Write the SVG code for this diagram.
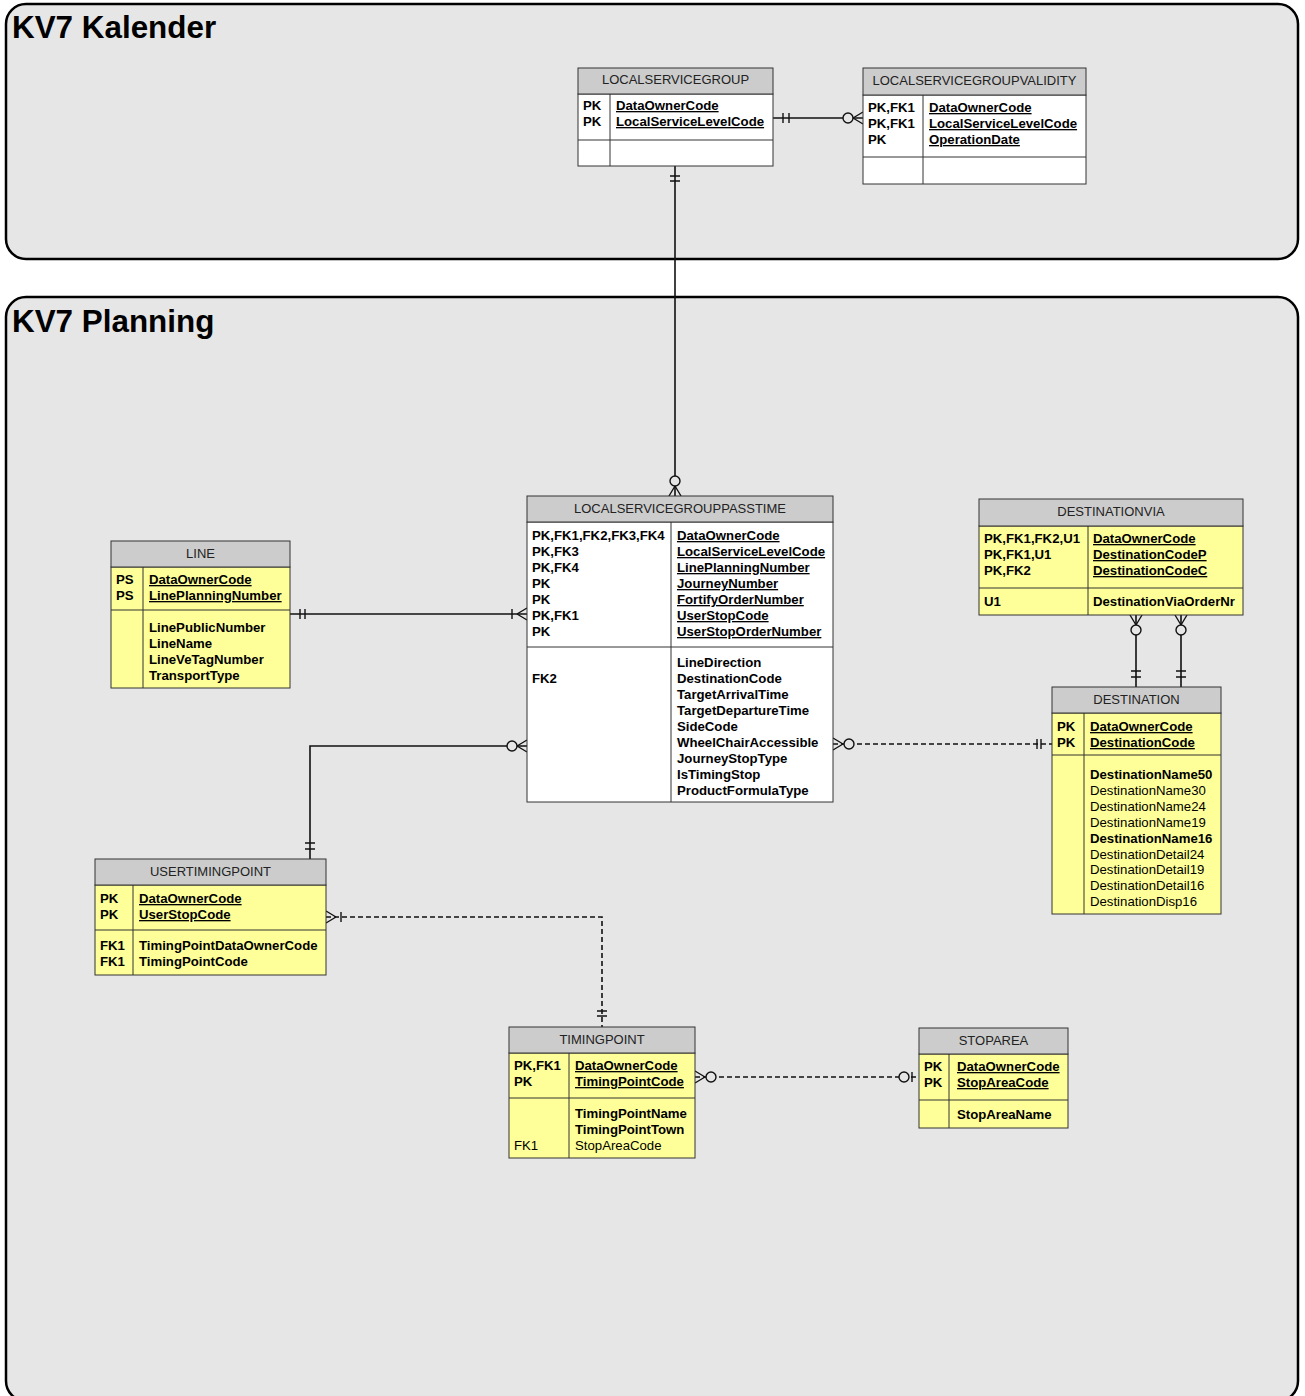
<svg xmlns="http://www.w3.org/2000/svg" width="1305" height="1396" viewBox="0 0 1305 1396">
<style>
.area{fill:#e6e6e6;stroke:#000;stroke-width:2.5}
.title{font-family:"Liberation Sans",Arial,sans-serif;font-weight:bold;font-size:31.4px;fill:#000}
.hdr{fill:#cccccc;stroke:#333;stroke-width:1}
.body{stroke:#333;stroke-width:1}
.w{fill:#fff}
.y{fill:#ffff99}
.div{stroke:#333;stroke-width:1;fill:none}
.ht{font-family:"Liberation Sans",Arial,sans-serif;font-size:13px;fill:#222;text-anchor:middle}
.t{font-family:"Liberation Sans",Arial,sans-serif;font-size:13.2px;fill:#000;font-weight:bold}
.n{font-weight:normal}
.u{text-decoration:underline}
.c{fill:none;stroke:#111;stroke-width:1.6}
.d{stroke-dasharray:5,3}
.m{fill:none;stroke:#111;stroke-width:1.4}
.o{fill:#e6e6e6;stroke:#111;stroke-width:1.4}
</style>
<rect x="0" y="0" width="1305" height="1396" fill="#fff"/>
<g id="area-kalender">
<rect class="area" x="6" y="4" width="1292" height="255" rx="20" ry="20"/>
<text class="title" x="12" y="38">KV7 Kalender</text>
</g>
<g id="area-planning">
<rect class="area" x="6" y="297" width="1292" height="1104" rx="20" ry="20"/>
<text class="title" x="12" y="332">KV7 Planning</text>
</g>

<g id="connectors">
<!-- LSG -> LSGV -->
<path class="c" d="M773,118 H863"/>
<path class="m" d="M783,113 V123 M789,113 V123"/>
<path class="m" d="M853,118 L863,112 M853,118 L863,124"/>
<circle class="o" cx="848" cy="118" r="5"/>
<!-- LSG -> LSGP -->
<path class="c" d="M675,166 V496"/>
<path class="m" d="M670,176 H680 M670,181 H680"/>
<path class="m" d="M675,486 L669,496 M675,486 L681,496"/>
<circle class="o" cx="675" cy="481" r="5"/>
<!-- LINE -> LSGP -->
<path class="c" d="M290,614 H527"/>
<path class="m" d="M300,609 V619 M305,609 V619"/>
<path class="m" d="M512,609 V619 M517,614 L527,608 M517,614 L527,620"/>
<!-- LSGP -> USERTIMINGPOINT -->
<path class="c" d="M527,746 H310 V859"/>
<path class="m" d="M517,746 L527,740 M517,746 L527,752"/>
<circle class="o" cx="512" cy="746" r="5"/>
<path class="m" d="M305,843 H315 M305,849 H315"/>
<!-- LSGP -> DESTINATION -->
<path class="c d" d="M833,744 H1052"/>
<path class="m" d="M843,744 L833,738 M843,744 L833,750"/>
<circle class="o" cx="849" cy="744" r="5"/>
<path class="m" d="M1037,739 V749 M1041,739 V749"/>
<!-- USERTIMINGPOINT -> TIMINGPOINT -->
<path class="c d" d="M326,917 H602 V1027"/>
<path class="m" d="M336,917 L326,911 M336,917 L326,923 M341,912 V922"/>
<path class="m" d="M597,1011 H607 M597,1016 H607"/>
<!-- TIMINGPOINT -> STOPAREA -->
<path class="c d" d="M695,1077 H919"/>
<path class="m" d="M705,1077 L695,1071 M705,1077 L695,1083"/>
<circle class="o" cx="711" cy="1077" r="5"/>
<circle class="o" cx="904" cy="1077" r="5"/>
<path class="m" d="M912,1072 V1082"/>
<!-- DESTINATIONVIA -> DESTINATION (x2) -->
<path class="c" d="M1136,615 V687 M1181,615 V687"/>
<path class="m" d="M1136,625 L1130,615 M1136,625 L1142,615 M1181,625 L1175,615 M1181,625 L1187,615"/>
<circle class="o" cx="1136" cy="630" r="5"/>
<circle class="o" cx="1181" cy="630" r="5"/>
<path class="m" d="M1131,671 H1141 M1131,677 H1141 M1176,671 H1186 M1176,677 H1186"/>
</g>

<g id="LOCALSERVICEGROUP">
<rect class="body w" x="578" y="94" width="195" height="72"/>
<rect class="hdr" x="578" y="68" width="195" height="26"/>
<path class="div" d="M578,140 H773 M610,94 V166"/>
<text class="ht" x="675.5" y="84">LOCALSERVICEGROUP</text>
<text class="t" x="583" y="110">PK</text>
<text class="t" x="583" y="126">PK</text>
<text class="t u" x="616" y="110">DataOwnerCode</text>
<text class="t u" x="616" y="126">LocalServiceLevelCode</text>
</g>

<g id="LOCALSERVICEGROUPVALIDITY">
<rect class="body w" x="863" y="95" width="223" height="89"/>
<rect class="hdr" x="863" y="68" width="223" height="27"/>
<path class="div" d="M863,157 H1086 M923,95 V184"/>
<text class="ht" x="974.5" y="85">LOCALSERVICEGROUPVALIDITY</text>
<text class="t" x="868" y="112">PK,FK1</text>
<text class="t" x="868" y="128">PK,FK1</text>
<text class="t" x="868" y="144">PK</text>
<text class="t u" x="929" y="112">DataOwnerCode</text>
<text class="t u" x="929" y="128">LocalServiceLevelCode</text>
<text class="t u" x="929" y="144">OperationDate</text>
</g>

<g id="LOCALSERVICEGROUPPASSTIME">
<rect class="body w" x="527" y="522" width="306" height="280"/>
<rect class="hdr" x="527" y="496" width="306" height="26"/>
<path class="div" d="M527,647 H833 M671,522 V802"/>
<text class="ht" x="680" y="513">LOCALSERVICEGROUPPASSTIME</text>
<text class="t" x="532" y="540">PK,FK1,FK2,FK3,FK4</text>
<text class="t" x="532" y="556">PK,FK3</text>
<text class="t" x="532" y="572">PK,FK4</text>
<text class="t" x="532" y="588">PK</text>
<text class="t" x="532" y="604">PK</text>
<text class="t" x="532" y="620">PK,FK1</text>
<text class="t" x="532" y="636">PK</text>
<text class="t u" x="677" y="540">DataOwnerCode</text>
<text class="t u" x="677" y="556">LocalServiceLevelCode</text>
<text class="t u" x="677" y="572">LinePlanningNumber</text>
<text class="t u" x="677" y="588">JourneyNumber</text>
<text class="t u" x="677" y="604">FortifyOrderNumber</text>
<text class="t u" x="677" y="620">UserStopCode</text>
<text class="t u" x="677" y="636">UserStopOrderNumber</text>
<text class="t" x="532" y="683">FK2</text>
<text class="t" x="677" y="667">LineDirection</text>
<text class="t" x="677" y="683">DestinationCode</text>
<text class="t" x="677" y="699">TargetArrivalTime</text>
<text class="t" x="677" y="715">TargetDepartureTime</text>
<text class="t" x="677" y="731">SideCode</text>
<text class="t" x="677" y="747">WheelChairAccessible</text>
<text class="t" x="677" y="763">JourneyStopType</text>
<text class="t" x="677" y="779">IsTimingStop</text>
<text class="t" x="677" y="795">ProductFormulaType</text>
</g>

<g id="LINE">
<rect class="body y" x="111" y="567" width="179" height="121"/>
<rect class="hdr" x="111" y="541" width="179" height="26"/>
<path class="div" d="M111,610 H290 M143,567 V688"/>
<text class="ht" x="200.5" y="558">LINE</text>
<text class="t" x="116" y="584">PS</text>
<text class="t" x="116" y="600">PS</text>
<text class="t u" x="149" y="584">DataOwnerCode</text>
<text class="t u" x="149" y="600">LinePlanningNumber</text>
<text class="t" x="149" y="632">LinePublicNumber</text>
<text class="t" x="149" y="648">LineName</text>
<text class="t" x="149" y="664">LineVeTagNumber</text>
<text class="t" x="149" y="680">TransportType</text>
</g>

<g id="DESTINATIONVIA">
<rect class="body y" x="979" y="526" width="264" height="89"/>
<rect class="hdr" x="979" y="499" width="264" height="27"/>
<path class="div" d="M979,588 H1243 M1088,526 V615"/>
<text class="ht" x="1111" y="516">DESTINATIONVIA</text>
<text class="t" x="984" y="543">PK,FK1,FK2,U1</text>
<text class="t" x="984" y="559">PK,FK1,U1</text>
<text class="t" x="984" y="575">PK,FK2</text>
<text class="t u" x="1093" y="543">DataOwnerCode</text>
<text class="t u" x="1093" y="559">DestinationCodeP</text>
<text class="t u" x="1093" y="575">DestinationCodeC</text>
<text class="t" x="984" y="606">U1</text>
<text class="t" x="1093" y="606">DestinationViaOrderNr</text>
</g>

<g id="DESTINATION">
<rect class="body y" x="1052" y="713" width="169" height="201"/>
<rect class="hdr" x="1052" y="687" width="169" height="26"/>
<path class="div" d="M1052,755 H1221 M1084,713 V914"/>
<text class="ht" x="1136.5" y="704">DESTINATION</text>
<text class="t" x="1057" y="731">PK</text>
<text class="t" x="1057" y="747">PK</text>
<text class="t u" x="1090" y="731">DataOwnerCode</text>
<text class="t u" x="1090" y="747">DestinationCode</text>
<text class="t" x="1090" y="779">DestinationName50</text>
<text class="t n" x="1090" y="794.9">DestinationName30</text>
<text class="t n" x="1090" y="810.8">DestinationName24</text>
<text class="t n" x="1090" y="826.7">DestinationName19</text>
<text class="t" x="1090" y="842.6">DestinationName16</text>
<text class="t n" x="1090" y="858.5">DestinationDetail24</text>
<text class="t n" x="1090" y="874.4">DestinationDetail19</text>
<text class="t n" x="1090" y="890.3">DestinationDetail16</text>
<text class="t n" x="1090" y="906">DestinationDisp16</text>
</g>

<g id="USERTIMINGPOINT">
<rect class="body y" x="95" y="885" width="231" height="90"/>
<rect class="hdr" x="95" y="859" width="231" height="26"/>
<path class="div" d="M95,930 H326 M133,885 V975"/>
<text class="ht" x="210.5" y="876">USERTIMINGPOINT</text>
<text class="t" x="100" y="903">PK</text>
<text class="t" x="100" y="919">PK</text>
<text class="t u" x="139" y="903">DataOwnerCode</text>
<text class="t u" x="139" y="919">UserStopCode</text>
<text class="t" x="100" y="950">FK1</text>
<text class="t" x="100" y="966">FK1</text>
<text class="t" x="139" y="950">TimingPointDataOwnerCode</text>
<text class="t" x="139" y="966">TimingPointCode</text>
</g>

<g id="TIMINGPOINT">
<rect class="body y" x="509" y="1053" width="186" height="105"/>
<rect class="hdr" x="509" y="1027" width="186" height="26"/>
<path class="div" d="M509,1098 H695 M569,1053 V1158"/>
<text class="ht" x="602" y="1044">TIMINGPOINT</text>
<text class="t" x="514" y="1070">PK,FK1</text>
<text class="t" x="514" y="1086">PK</text>
<text class="t u" x="575" y="1070">DataOwnerCode</text>
<text class="t u" x="575" y="1086">TimingPointCode</text>
<text class="t" x="575" y="1118">TimingPointName</text>
<text class="t" x="575" y="1134">TimingPointTown</text>
<text class="t n" x="514" y="1150">FK1</text>
<text class="t n" x="575" y="1150">StopAreaCode</text>
</g>

<g id="STOPAREA">
<rect class="body y" x="919" y="1054" width="149" height="74"/>
<rect class="hdr" x="919" y="1028" width="149" height="26"/>
<path class="div" d="M919,1100 H1068 M949,1054 V1128"/>
<text class="ht" x="993.5" y="1045">STOPAREA</text>
<text class="t" x="924" y="1071">PK</text>
<text class="t" x="924" y="1087">PK</text>
<text class="t u" x="957" y="1071">DataOwnerCode</text>
<text class="t u" x="957" y="1087">StopAreaCode</text>
<text class="t" x="957" y="1119">StopAreaName</text>
</g>
</svg>
